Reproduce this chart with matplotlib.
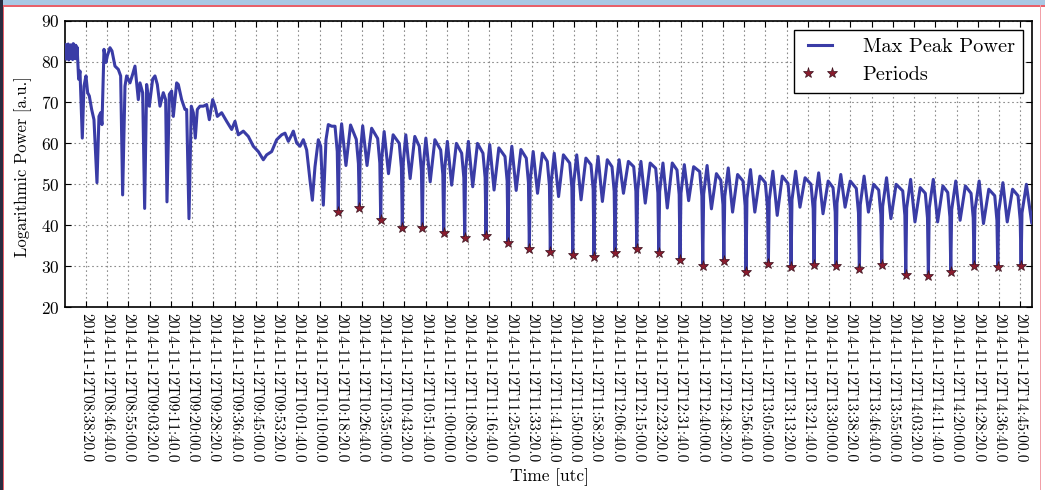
import matplotlib
matplotlib.use('Agg')
import matplotlib.pyplot as plt
from matplotlib.patches import Rectangle

plt.rcParams['font.family'] = ['cmr10', 'DejaVu Serif']
plt.rcParams['mathtext.fontset'] = 'cm'
plt.rcParams['axes.formatter.use_mathtext'] = True

# ---------------- data (time in minutes after 08:00 UTC) ----------------
tick_labels = [
    '2014-11-12T08:38:20.0', '2014-11-12T08:46:40.0', '2014-11-12T08:55:00.0',
    '2014-11-12T09:03:20.0', '2014-11-12T09:11:40.0', '2014-11-12T09:20:00.0',
    '2014-11-12T09:28:20.0', '2014-11-12T09:36:40.0', '2014-11-12T09:45:00.0',
    '2014-11-12T09:53:20.0', '2014-11-12T10:01:40.0', '2014-11-12T10:10:00.0',
    '2014-11-12T10:18:20.0', '2014-11-12T10:26:40.0', '2014-11-12T10:35:00.0',
    '2014-11-12T10:43:20.0', '2014-11-12T10:51:40.0', '2014-11-12T11:00:00.0',
    '2014-11-12T11:08:20.0', '2014-11-12T11:16:40.0', '2014-11-12T11:25:00.0',
    '2014-11-12T11:33:20.0', '2014-11-12T11:41:40.0', '2014-11-12T11:50:00.0',
    '2014-11-12T11:58:20.0', '2014-11-12T12:06:40.0', '2014-11-12T12:15:00.0',
    '2014-11-12T12:23:20.0', '2014-11-12T12:31:40.0', '2014-11-12T12:40:00.0',
    '2014-11-12T12:48:20.0', '2014-11-12T12:56:40.0', '2014-11-12T13:05:00.0',
    '2014-11-12T13:13:20.0', '2014-11-12T13:21:40.0', '2014-11-12T13:30:00.0',
    '2014-11-12T13:38:20.0', '2014-11-12T13:46:40.0', '2014-11-12T13:55:00.0',
    '2014-11-12T14:03:20.0', '2014-11-12T14:11:40.0', '2014-11-12T14:20:00.0',
    '2014-11-12T14:28:20.0', '2014-11-12T14:36:40.0', '2014-11-12T14:45:00.0']

early_t = [30.10, 30.35, 30.60, 30.85, 31.10, 31.35, 31.60, 31.85, 32.10, 32.35,
           32.60, 32.85, 33.10, 33.35, 33.60, 33.85, 34.10, 34.35, 34.60, 34.85,
           35.45, 35.98, 36.89, 37.55, 38.33, 38.99, 39.64, 40.56, 41.47, 42.65,
           43.43, 44.09, 44.61, 45.40, 46.18, 46.71, 47.75, 48.54, 49.71, 51.02,
           51.94, 52.72, 53.64, 54.29, 55.60, 56.65, 57.56, 58.87, 59.53, 60.57,
           61.36, 62.14, 63.19, 64.50, 65.41, 66.33, 67.38, 68.68, 69.60, 70.12,
           71.04, 71.95, 72.61, 73.92, 74.57, 75.88, 77.19, 77.84, 78.76, 79.67,
           80.46, 81.24, 82.03, 83.08, 84.39, 85.69, 86.74, 88.05, 88.96, 89.88,
           91.58, 93.54, 95.51, 96.81, 98.12, 100.08, 102.05, 104.01, 105.97, 107.93,
           109.24, 111.20, 113.17, 115.13, 116.44, 117.75, 119.06, 119.71, 121.02, 122.33,
           123.63, 124.94, 126.25, 127.17, 128.21, 129.52, 130.44, 131.48, 132.53, 133.44,
           134.75, 136.07, 136.95]
early_v = [82.5, 84.2, 80.6, 83.9, 81.0, 84.3, 80.4, 83.6, 81.2, 84.1,
           80.8, 83.8, 80.5, 84.4, 81.3, 83.7, 80.7, 84.0, 81.0, 83.5,
           75.7, 77.7, 61.3, 74.0, 76.5, 72.4, 71.6, 68.3, 65.8, 50.4,
           66.6, 67.5, 64.6, 83.0, 79.8, 81.4, 83.4, 82.6, 78.9, 78.1,
           76.5, 47.4, 74.0, 76.5, 74.8, 76.9, 78.9, 70.7, 74.8, 72.4,
           44.1, 74.4, 69.1, 75.7, 76.5, 74.4, 69.1, 72.4, 70.7, 45.7,
           72.0, 72.8, 66.6, 74.8, 74.4, 70.7, 68.3, 68.3, 41.6, 69.1,
           67.5, 61.3, 68.3, 69.1, 69.1, 69.5, 65.8, 70.7, 69.1, 66.6,
           67.5, 65.4, 63.4, 65.4, 62.1, 63.0, 61.7, 59.3, 58.0, 56.0,
           57.2, 58.0, 60.9, 62.1, 62.5, 60.5, 62.1, 63.0, 60.1, 59.3,
           60.9, 58.4, 51.0, 46.1, 54.3, 60.9, 59.3, 44.9, 60.9, 64.6,
           64.2, 64.2, 58.0]

# Periods (deep minima)
star_t = [137.36, 145.61, 154.00, 162.48, 170.33, 178.73, 186.97, 195.33, 203.97, 212.33,
          220.57, 229.37, 237.72, 245.97, 254.49, 263.12, 271.48, 280.39, 288.67, 297.38,
          306.14, 315.05, 324.07, 332.71, 341.85, 350.64, 360.06, 368.93, 377.73, 386.88,
          396.18, 405.32]
star_v = [43.2, 44.3, 41.2, 39.3, 39.2, 38.2, 36.9, 37.4, 35.7, 34.1,
          33.4, 32.6, 32.3, 33.3, 34.2, 33.1, 31.6, 30.1, 31.2, 28.6,
          30.4, 29.8, 30.2, 30.1, 29.4, 30.2, 27.8, 27.6, 28.6, 30.1,
          29.8, 30.1]

# features of the line between two minima
rise_t = [137.71, 145.96, 154.35, 162.83, 170.68, 179.08, 187.32, 195.68, 204.32, 212.68,
          220.92, 229.72, 238.07, 246.32, 254.84, 263.47, 271.83, 280.74, 289.02, 297.73,
          306.49, 315.40, 324.42, 333.06, 342.20, 350.99, 360.41, 369.28, 378.08, 387.23,
          396.53, 405.67]
rise_v = [57.8, 57.3, 55.9, 55.1, 54.3, 53.5, 53.5, 52.7, 52.3, 51.0,
          50.6, 50.2, 49.8, 49.0, 48.6, 48.2, 47.8, 47.6, 47.0, 46.6,
          46.2, 46.2, 45.8, 45.4, 45.0, 44.6, 44.2, 44.2, 43.8, 43.8,
          43.4, 43.0]
peak1_t = [138.66, 146.93, 155.35, 163.85, 171.72, 180.15, 188.41, 196.79, 205.46, 213.84,
           222.10, 230.93, 239.30, 247.57, 256.12, 264.77, 273.15, 282.09, 290.39, 299.12,
           307.91, 316.84, 325.88, 334.55, 343.71, 352.52, 361.97, 370.86, 379.68, 388.86,
           398.18, 407.40]
peak1_v = [64.8, 64.3, 62.9, 62.1, 61.3, 60.5, 60.5, 59.7, 59.3, 58.0,
           57.6, 57.2, 56.8, 56.0, 55.6, 55.2, 54.8, 54.6, 54.0, 53.6,
           53.2, 53.2, 52.8, 52.4, 52.0, 51.6, 51.2, 51.2, 50.8, 50.8,
           50.4, 50.0]
dip2_t = [140.36, 148.63, 157.05, 165.55, 173.42, 181.85, 190.11, 198.49, 207.16, 215.54,
          223.80, 232.63, 241.00, 249.27, 257.82, 266.47, 274.85, 283.79, 292.09, 300.82,
          309.61, 318.54, 327.58, 336.25, 345.41, 354.22, 363.67, 372.56, 381.38, 390.56,
          399.88, 409.50]
dip2_v = [54.6, 54.6, 52.6, 51.4, 50.6, 49.8, 49.4, 48.6, 48.5, 47.8,
          47.0, 46.2, 45.8, 47.8, 45.4, 44.2, 46.0, 44.0, 43.2, 43.2,
          42.4, 44.4, 42.8, 44.4, 43.2, 41.6, 40.8, 40.8, 41.2, 40.4,
          40.8, 40.5]
peak2_t = [142.16, 150.44, 158.87, 167.38, 175.26, 183.70, 191.97, 200.36, 209.03, 217.43,
           225.70, 234.53, 242.92, 251.20, 259.75, 268.42, 276.81, 285.75, 294.06, 302.81,
           311.60, 320.54, 329.60, 338.27, 347.44, 356.27, 365.72, 374.62, 383.45, 392.64,
           401.97, 411.20]
peak2_v = [64.5, 63.7, 62.1, 61.7, 60.9, 60.0, 60.0, 58.9, 58.5, 57.6,
           57.2, 56.4, 56.0, 55.6, 55.2, 55.2, 54.3, 52.6, 52.4, 52.0,
           52.0, 51.6, 50.8, 50.8, 50.0, 50.0, 49.2, 49.6, 49.6, 48.8,
           48.8, 48.8]
end_t = [144.41, 152.80, 161.28, 169.13, 177.53, 185.77, 194.13, 202.77, 211.13, 219.37,
         228.17, 236.52, 244.77, 253.29, 261.92, 270.28, 279.19, 287.47, 296.18, 304.94,
         313.85, 322.87, 331.51, 340.65, 349.44, 358.86, 367.73, 376.53, 385.68, 394.98,
         404.12]
end_v = [61.0, 61.2, 60.0, 59.3, 58.4, 57.6, 57.6, 56.8, 56.4, 55.6,
         55.2, 54.8, 54.3, 54.3, 53.9, 53.5, 53.1, 51.0, 50.8, 50.4,
         50.2, 50.0, 49.2, 49.0, 48.6, 48.4, 47.8, 48.0, 47.8, 47.2,
         47.2]
fall_t = [145.26, 153.65, 162.13, 169.98, 178.38, 186.62, 194.98, 203.62, 211.98, 220.22,
          229.02, 237.37, 245.62, 254.14, 262.77, 271.13, 280.04, 288.32, 297.03, 305.79,
          314.70, 323.72, 332.36, 341.50, 350.29, 359.71, 368.58, 377.38, 386.53, 395.83,
          404.97]
fall_v = [55.0, 55.2, 54.0, 53.3, 52.4, 51.6, 51.6, 50.8, 50.4, 49.6,
          49.2, 48.8, 48.3, 48.3, 47.9, 47.5, 47.1, 45.0, 44.8, 44.4,
          44.2, 44.0, 43.2, 43.0, 42.6, 42.4, 41.8, 42.0, 41.8, 41.2,
          41.2]

# ---------------- assemble the line from the read points ----------------
pts = list(zip(early_t, early_v))
for ts, vs in [(star_t, star_v), (rise_t, rise_v), (peak1_t, peak1_v), (dip2_t, dip2_v),
               (peak2_t, peak2_v), (end_t, end_v), (fall_t, fall_v)]:
    pts += list(zip(ts, vs))
pts.sort()
line_t = [p[0] for p in pts]
line_v = [p[1] for p in pts]


def to_minutes(label):
    hh, mm, ss = label.split('T')[1].split(':')
    return (int(hh) - 8) * 60 + int(mm) + float(ss) / 60.0


tick_pos = [to_minutes(s) for s in tick_labels]

# ---------------- figure ----------------
fig = plt.figure(figsize=(10.45, 4.90), dpi=100)
fig.patch.set_facecolor('white')

# slide frame decoration
fig.patches.append(Rectangle((0, 1 - 5.5 / 490), 1, 5.5 / 490, transform=fig.transFigure,
                             facecolor='#a9c8e4', edgecolor='none', zorder=0))
fig.patches.append(Rectangle((0, 1 - 7 / 490), 1, 1.5 / 490, transform=fig.transFigure,
                             facecolor='#e8606a', edgecolor='none', zorder=0))
fig.patches.append(Rectangle((0, 0), 3 / 1045, 1, transform=fig.transFigure,
                             facecolor='#2a2c40', edgecolor='none', zorder=0))
fig.patches.append(Rectangle((3 / 1045, 0), 1.3 / 1045, 1 - 5.5 / 490, transform=fig.transFigure,
                             facecolor='#e8606a', edgecolor='none', zorder=0))
fig.patches.append(Rectangle((1039.5 / 1045, 0), 1.2 / 1045, 1 - 5.5 / 490, transform=fig.transFigure,
                             facecolor='#f2a0a8', edgecolor='none', zorder=0))

ax = fig.add_axes([65 / 1045, 1 - 307 / 490, (1032 - 65) / 1045, (307 - 20.7) / 490])

ax.plot(line_t, line_v, color='#3a3ca6', lw=2.2, label='Max Peak Power', zorder=3)
ax.plot(star_t, star_v, linestyle='none', marker='*', markersize=8,
        color='#8a1c2e', markeredgecolor='#3a1420', markeredgewidth=0.5,
        label='Periods', zorder=4)

ax.set_xlim(30.1, 409.6)
ax.set_ylim(20, 90)
ax.set_yticks([20, 30, 40, 50, 60, 70, 80, 90])
ax.set_xticks(tick_pos)
ax.set_xticklabels(tick_labels, rotation=-90, fontsize=11)
for lab in ax.get_yticklabels():
    lab.set_fontsize(12.5)

ax.tick_params(direction='in', length=4, width=0.8, top=True, right=True, pad=4)
ax.tick_params(axis='x', pad=4)
for sp in ax.spines.values():
    sp.set_linewidth(1.2)
    sp.set_color('black')

ax.grid(True, color='0.55', linestyle=(0, (1.5, 2.5)), linewidth=0.8, zorder=0)

ax.set_ylabel('Logarithmic Power [a.u.]', fontsize=12)
ax.yaxis.set_label_coords(-0.034, 0.49)
ax.set_xlabel('Time [utc]', fontsize=12.5)
ax.xaxis.set_label_coords(0.501, -0.565)

leg = ax.legend(loc='upper right', numpoints=2, fancybox=False, framealpha=1,
                edgecolor='black', fontsize=14.6, handlelength=1.8,
                handletextpad=1.2, borderaxespad=0.45, borderpad=0.4)
leg.get_frame().set_linewidth(1.0)

fig.savefig('out.png', dpi=100, facecolor=fig.get_facecolor())
